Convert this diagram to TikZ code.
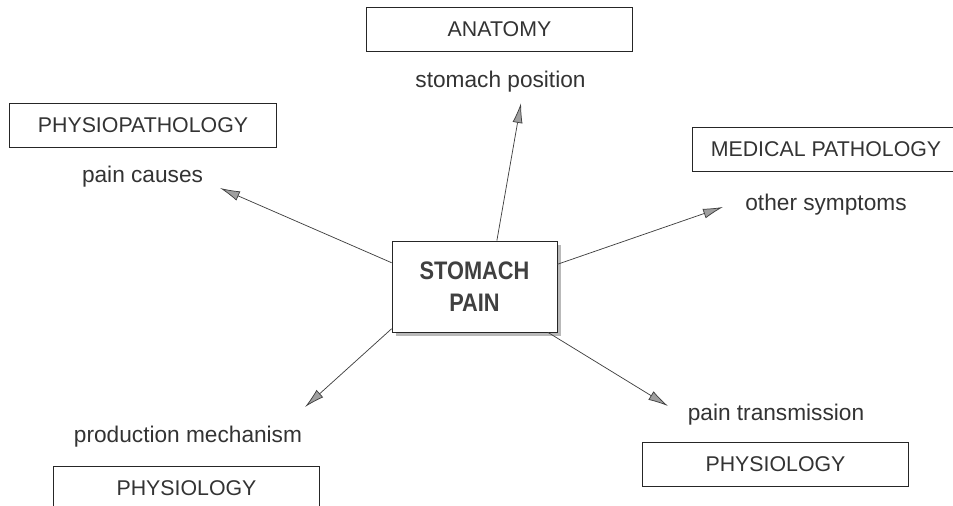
\documentclass[tikz,border=0pt]{standalone}
\usepackage{fontspec}
\setmainfont{Liberation Sans}
\newfontfamily\headfont[FakeStretch=0.86]{Liberation Sans}
\usetikzlibrary{arrows.meta,shadows}
\begin{document}
\begin{tikzpicture}[x=0.75pt,y=-0.75pt,
  field/.style={draw=black!85,line width=0.55pt,minimum width=200pt,minimum height=33pt,inner sep=0pt,text=black!80,font=\fontsize{16}{18}\selectfont},
  topic/.style={anchor=base,text=black!80,font=\fontsize{17}{20}\selectfont},
  link/.style={draw=black!75,line width=0.55pt,-{Latex[length=15pt,width=7.5pt,fill=gray!75]}}]
\useasboundingbox (0,0) rectangle (953,506);
\node[draw=black!85,line width=0.55pt,fill=white,minimum width=123.75pt,minimum height=68.25pt,inner sep=0pt,align=center,text=black!75,
  font=\headfont\bfseries\fontsize{19}{24}\selectfont,
  drop shadow={shadow xshift=3pt,shadow yshift=-3pt,fill=gray!55,opacity=1}] (pain) at (474.5,286.5) {STOMACH\\PAIN};
\node[field] (anatomy) at (499.5,29) {ANATOMY};
\node[field] (physiopath) at (143,125.5) {PHYSIOPATHOLOGY};
\node[field] (medpath) at (826,149) {MEDICAL PATHOLOGY};
\node[field] (physioL) at (186.5,488) {PHYSIOLOGY};
\node[field] (physioR) at (775.5,464) {PHYSIOLOGY};
\node[topic] (position) at (500.5,88) {stomach position};
\node[topic] (causes) at (142.5,183) {pain causes};
\node[topic] (symptoms) at (826,210) {other symptoms};
\node[topic] (mechanism) at (188,442) {production mechanism};
\node[topic] (transmission) at (776,420) {pain transmission};
\coordinate (positionTip) at (521,103);
\coordinate (causesTip) at (220,188);
\coordinate (symptomsTip) at (723,207);
\coordinate (mechanismTip) at (305,407);
\coordinate (transmissionTip) at (668,406);
\draw[link] (pain.64) -- (positionTip);
\draw[link] (pain.164) -- (causesTip);
\draw[link] (pain.15) -- (symptomsTip);
\draw[link] (pain.207) -- (mechanismTip);
\draw[link] (pain.328) -- (transmissionTip);
\end{tikzpicture}
\end{document}
